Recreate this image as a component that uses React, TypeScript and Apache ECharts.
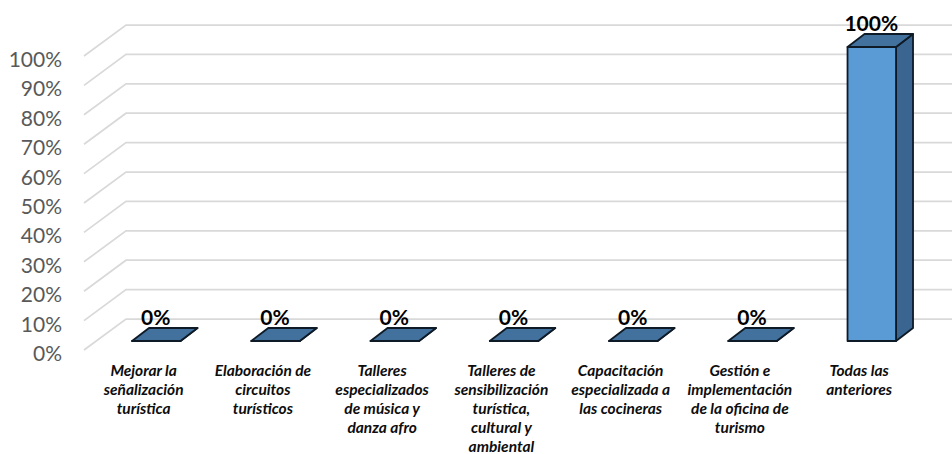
import React, { useEffect, useRef } from "react";
import * as echarts from "echarts";

const categories = [
  "Mejorar la\nseñalización\nturística",
  "Elaboración de\ncircuitos\nturísticos",
  "Talleres\nespecializados\nde música y\ndanza afro",
  "Talleres de\nsensibilización\nturística,\ncultural y\nambiental",
  "Capacitación\nespecializada a\nlas cocineras",
  "Gestión e\nimplementación\nde la oficina de\nturismo",
  "Todas las\nanteriores",
];
const values = [0, 0, 0, 0, 0, 0, 100];
const yTicks = [0, 10, 20, 30, 40, 50, 60, 70, 80, 90, 100];

const FONT = "Lato, 'Open Sans', sans-serif";

function renderWall(params: any, api: any) {
  const p = api.coord([0, api.value(1)]);
  const cs = params.coordSys;
  const x0 = cs.x - 1;
  return {
    type: "polyline",
    shape: {
      points: [
        [x0, p[1]],
        [x0 + 42, p[1] - 31],
        [cs.x + cs.width + 42, p[1] - 31],
      ],
    },
    style: { stroke: "#d9d9d9", lineWidth: 1.75, fill: "none" },
    silent: true,
  };
}

function renderBar(_params: any, api: any) {
  const idx = api.value(0);
  const v = api.value(1);
  const c = api.coord([idx, v]);
  const b = api.coord([idx, 0]);
  const w = 48.5;
  const dx = 17;
  const dy = 13;
  const l = c[0] - 12.6;
  const r = l + w;
  const t = c[1] - 9;
  const bot = b[1] - 9;
  const edge = { stroke: "#0e1a26", lineWidth: 1.8, lineJoin: "round" };
  return {
    type: "group",
    children: [
      {
        type: "polygon",
        shape: { points: [[r, t], [r + dx, t - dy], [r + dx, bot - dy], [r, bot]] },
        style: { fill: "#3a6590", ...edge },
      },
      {
        type: "polygon",
        shape: { points: [[l, t], [l + dx, t - dy], [r + dx, t - dy], [r, t]] },
        style: { fill: "#41719c", ...edge },
      },
      {
        type: "rect",
        shape: { x: l, y: t, width: w, height: bot - t },
        style: { fill: "#5b9bd5", ...edge },
      },
      {
        type: "text",
        x: l + w / 2 - 0.5,
        y: t - 25,
        style: {
          text: v + "%",
          fill: "#000000",
          font: `bold 21px ${FONT}`,
          align: "center",
          verticalAlign: "middle",
        },
      },
    ],
  };
}

export default function App() {
  const ref = useRef<HTMLDivElement>(null);
  useEffect(() => {
    document.body.style.margin = "0";
    const chart = echarts.init(ref.current!, undefined, { renderer: "svg" });
    chart.setOption({
      animation: false,
      backgroundColor: "#ffffff",
      grid: { left: 85, top: 56, width: 834.75, height: 294, outerBoundsMode: "none" },
      xAxis: {
        type: "category",
        data: categories,
        axisLine: { show: false },
        axisTick: { show: false },
        splitLine: { show: false },
        axisLabel: {
          interval: 0,
          margin: 10,
          color: "#0d0d0d",
          fontFamily: FONT,
          fontSize: 15.5,
          fontWeight: "bold",
          fontStyle: "italic",
          lineHeight: 19,
          verticalAlign: "top",
          padding: [0, 2, 0, 0],
        },
      },
      yAxis: {
        type: "value",
        min: 0,
        max: 100,
        interval: 10,
        axisLine: { show: false },
        axisTick: { show: false },
        splitLine: { show: false },
        axisLabel: {
          formatter: "{value}%",
          margin: 23,
          color: "#595959",
          fontFamily: FONT,
          fontSize: 21,
          verticalAlign: "top",
          lineHeight: 5,
        },
      },
      series: [
        {
          type: "custom",
          renderItem: renderWall,
          data: yTicks.map((t) => [0, t]),
          clip: false,
          silent: true,
          z: 1,
        },
        {
          type: "custom",
          renderItem: renderBar,
          data: values.map((v, i) => [i, v]),
          clip: false,
          silent: true,
          z: 2,
        },
      ],
    });
    return () => chart.dispose();
  }, []);
  return <div ref={ref} style={{ width: 952, height: 454 }} />;
}
